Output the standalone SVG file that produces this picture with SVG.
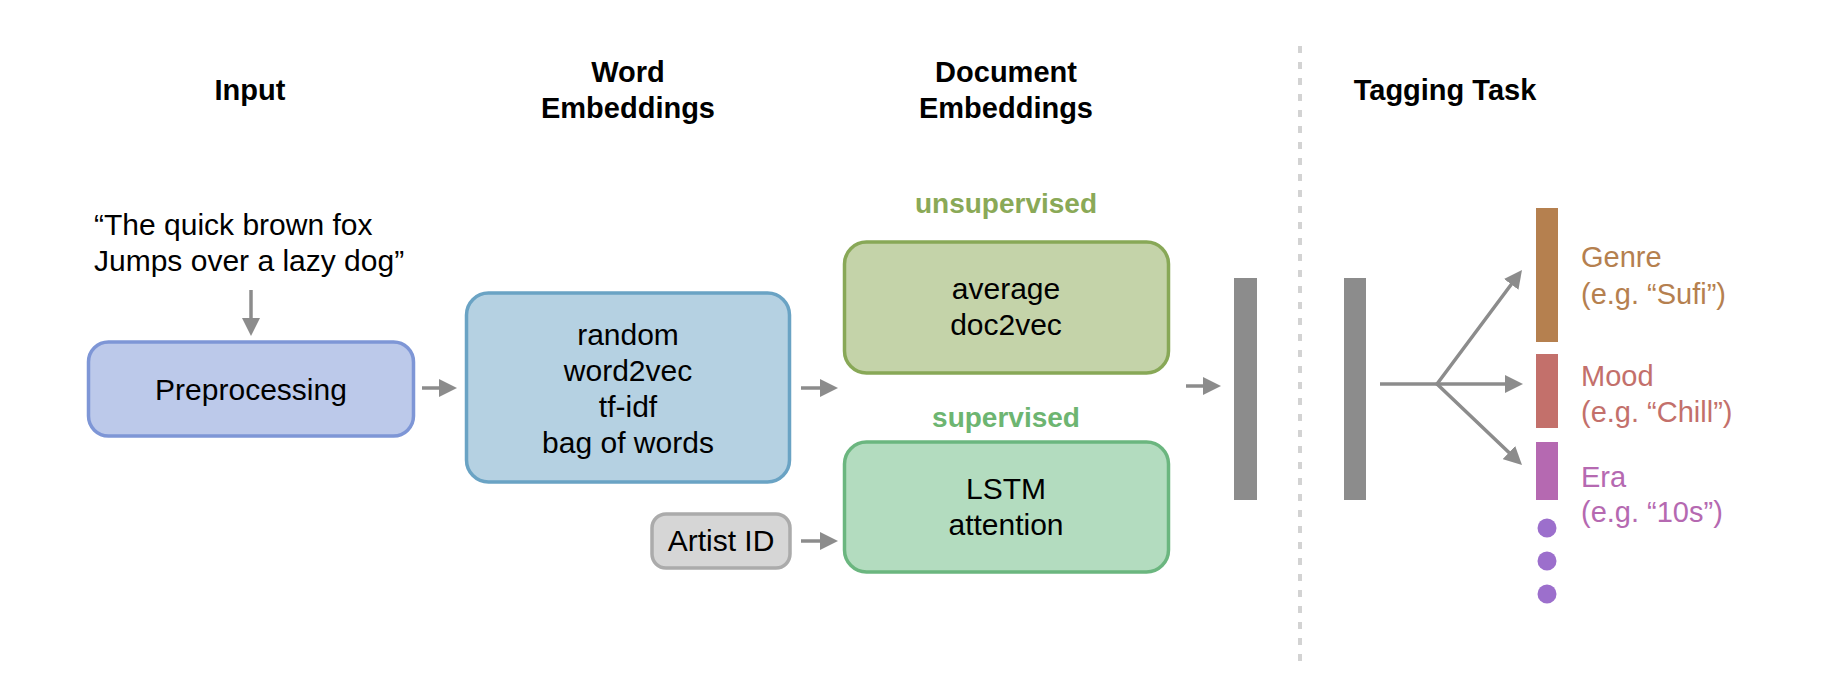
<svg xmlns="http://www.w3.org/2000/svg" width="1840" height="696" viewBox="0 0 1840 696">
<style>
text{font-family:"Liberation Sans",Arial,sans-serif;font-size:30px;fill:#000;text-anchor:middle}
.title{font-weight:bold;font-size:29px}
.sub{font-weight:bold;font-size:28px}
.lab{text-anchor:start;font-size:29px}
.conn{stroke:#8C8C8C;stroke-width:3.5;fill:none;marker-end:url(#ah)}
.bar{fill:#8C8C8C}
</style>
<defs>
<marker id="ah" viewBox="0 0 10 10" refX="5" refY="5" markerWidth="18" markerHeight="18" markerUnits="userSpaceOnUse" orient="auto">
<path d="M0,0 L10,5 L0,10 z" fill="#8C8C8C"/>
</marker>
</defs>
<rect width="1840" height="696" fill="#fff"/>

<g id="titles">
<text class="title" x="250" y="100">Input</text>
<text class="title" x="628" y="82">Word</text>
<text class="title" x="628" y="118">Embeddings</text>
<text class="title" x="1006" y="82">Document</text>
<text class="title" x="1006" y="118">Embeddings</text>
<text class="title" x="1445" y="100">Tagging Task</text>
</g>

<line id="divider" x1="1300" y1="46" x2="1300" y2="664" stroke="#D3D3D3" stroke-width="4" stroke-dasharray="7 9"/>

<g id="quote">
<text class="lab" x="94" y="235" style="font-size:30px">“The quick brown fox</text>
<text class="lab" x="94" y="271" style="font-size:30px">Jumps over a lazy dog”</text>
</g>

<g id="preprocessing">
<rect x="88.5" y="342" width="325" height="94" rx="20" fill="#BCC9EA" stroke="#7E96D6" stroke-width="3.5"/>
<text x="251" y="400">Preprocessing</text>
</g>

<g id="word-embeddings">
<rect x="466.5" y="293" width="323" height="189" rx="22" fill="#B5D1E2" stroke="#6AA3C4" stroke-width="3.5"/>
<text x="628" y="345">random</text>
<text x="628" y="381">word2vec</text>
<text x="628" y="417">tf-idf</text>
<text x="628" y="453">bag of words</text>
</g>

<g id="artist-id">
<rect x="652" y="514" width="138" height="54" rx="14" fill="#D6D6D6" stroke="#ABABAB" stroke-width="3.5"/>
<text x="721" y="551">Artist ID</text>
</g>

<g id="unsupervised">
<text class="sub" x="1006" y="213" style="fill:#8AA957">unsupervised</text>
<rect x="844.5" y="242" width="324" height="131" rx="22" fill="#C4D3A9" stroke="#88A857" stroke-width="3.5"/>
<text x="1006" y="299">average</text>
<text x="1006" y="335">doc2vec</text>
</g>

<g id="supervised">
<text class="sub" x="1006" y="427" style="fill:#6DB571">supervised</text>
<rect x="844.5" y="442" width="324" height="130" rx="22" fill="#B3DCBF" stroke="#6BB67F" stroke-width="3.5"/>
<text x="1006" y="499">LSTM</text>
<text x="1006" y="535">attention</text>
</g>

<g id="doc-vector">
<rect class="bar" x="1234" y="278" width="23" height="222"/>
</g>

<g id="shared-layer">
<rect class="bar" x="1344" y="278" width="22" height="222"/>
</g>

<g id="genre">
<rect x="1536" y="208" width="22" height="134" fill="#B5804F"/>
<text class="lab" x="1581" y="267" style="fill:#B5804F">Genre</text>
<text class="lab" x="1581" y="304" style="fill:#B5804F">(e.g. “Sufi”)</text>
</g>

<g id="mood">
<rect x="1536" y="354" width="22" height="74" fill="#C3706B"/>
<text class="lab" x="1581" y="386" style="fill:#C3706B">Mood</text>
<text class="lab" x="1581" y="422" style="fill:#C3706B">(e.g. “Chill”)</text>
</g>

<g id="era">
<rect x="1536" y="442" width="22" height="58" fill="#B569B1"/>
<text class="lab" x="1581" y="487" style="fill:#B569B1">Era</text>
<text class="lab" x="1581" y="522" style="fill:#B569B1">(e.g. “10s”)</text>
</g>

<g id="more" fill="#9C6FCC">
<circle cx="1547" cy="528" r="9.5"/>
<circle cx="1547" cy="561" r="9.5"/>
<circle cx="1547" cy="594" r="9.5"/>
</g>

<g id="connectors">
<line class="conn" x1="251" y1="290" x2="251" y2="327"/>
<line class="conn" x1="422" y1="388" x2="448" y2="388"/>
<line class="conn" x1="801" y1="388" x2="829" y2="388"/>
<line class="conn" x1="801" y1="541" x2="829" y2="541"/>
<line class="conn" x1="1186" y1="386" x2="1212" y2="386"/>
<line x1="1380" y1="384" x2="1437" y2="384" stroke="#8C8C8C" stroke-width="3.5"/>
<line class="conn" x1="1437" y1="384" x2="1516.6" y2="277.2" stroke-linecap="round"/>
<line class="conn" x1="1437" y1="384" x2="1514" y2="384"/>
<line class="conn" x1="1437" y1="384" x2="1515.5" y2="458.8" stroke-linecap="round"/>
</g>
</svg>
